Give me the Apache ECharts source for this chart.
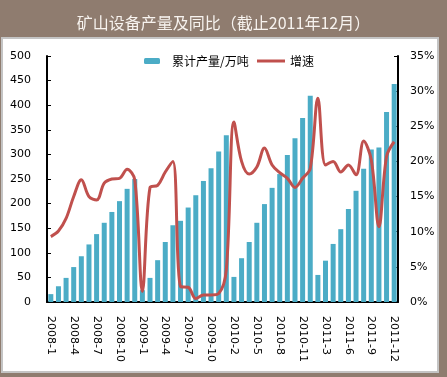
<!DOCTYPE html>
<html>
<head>
<meta charset="utf-8">
<title>矿山设备产量及同比</title>
<script src="https://cdn.jsdelivr.net/npm/echarts@6/dist/echarts.min.js"></script>
<style>
  html, body { margin: 0; padding: 0; background: #8f7c6f; }
  #chart { width: 447px; height: 377px; }
</style>
</head>
<body>
<div id="chart"></div>
<script>
// months shown on the x axis (Jan 2010 and Jan 2011 are merged into Feb)
var months = [
  '2008-1', '2008-2', '2008-3', '2008-4', '2008-5', '2008-6', '2008-7', '2008-8', '2008-9', '2008-10', '2008-11', '2008-12',
  '2009-1', '2009-2', '2009-3', '2009-4', '2009-5', '2009-6', '2009-7', '2009-8', '2009-9', '2009-10', '2009-11', '2009-12',
  '2010-2', '2010-3', '2010-4', '2010-5', '2010-6', '2010-7', '2010-8', '2010-9', '2010-10', '2010-11', '2010-12',
  '2011-2', '2011-3', '2011-4', '2011-5', '2011-6', '2011-7', '2011-8', '2011-9', '2011-10', '2011-11', '2011-12'
]
// 累计产量 (万吨)
var output = [
  16, 32, 49, 71, 93, 117, 138, 161, 183, 205, 230, 250,
  24, 49, 85, 122, 156, 165, 192, 217, 246, 272, 306, 339,
  51, 89, 122, 161, 199, 232, 260, 299, 333, 374, 419,
  55, 84, 118, 148, 189, 226, 271, 310, 314, 386, 443
]
// 增速 (%)
var growth = [
  9.3, 10.1, 11.9, 15.0, 17.4, 15.0, 14.5, 16.9, 17.5, 17.6, 18.9, 17.4,
  1.5, 16.3, 16.6, 18.5, 20.0, 2.2, 2.1, 0.5, 1.0, 1.0, 1.2, 4.6,
  25.6, 20.0, 18.2, 19.2, 21.9, 19.5, 18.4, 17.6, 16.3, 17.6, 19.0,
  29.0, 19.5, 20.0, 18.5, 19.5, 18.1, 22.9, 20.2, 10.7, 20.7, 22.8
]
var leftTicks = { min: 0, max: 500, step: 50 }
var rightTicks = { min: 0, max: 35, step: 5 }

var axisFont = { color: '#000', fontSize: 11, fontFamily: 'DejaVu Sans' }

var chart = echarts.init(document.getElementById('chart'))
chart.setOption({
  backgroundColor: '#8f7c6f',
  animation: false,
  title: {
    text: '矿山设备产量及同比（截止2011年12月）',
    left: 'center',
    top: 10,
    textStyle: {
      color: '#f7f3ef',
      fontSize: 16,
      fontWeight: 'normal',
      fontFamily: 'Noto Sans CJK SC'
    }
  },
  graphic: [{
    type: 'rect',
    z: -1,
    shape: { x: 2, y: 38, width: 436, height: 334 },
    style: { fill: '#fff', stroke: '#c4c4c4', lineWidth: 2 }
  }],
  legend: [{
    data: ['累计产量/万吨'],
    left: 139,
    top: 50,
    itemWidth: 16,
    itemHeight: 6,
    itemGap: 0,
    textStyle: { color: '#000', fontSize: 12, fontFamily: 'Noto Sans CJK SC', padding: [0, 0, 0, 7] }
  }, {
    data: [{ name: '增速', icon: 'rect' }],
    left: 252,
    top: 50,
    itemWidth: 28,
    itemHeight: 3,
    textStyle: { color: '#000', fontSize: 12, fontFamily: 'Noto Sans CJK SC' }
  }],
  grid: {
    left: 47,
    right: 49,
    top: 56,
    bottom: 75
  },
  xAxis: {
    type: 'category',
    data: months,
    axisLine: { lineStyle: { color: '#000', width: 2 } },
    axisTick: { inside: true, length: 3, interval: 0, lineStyle: { color: '#000' } },
    axisLabel: Object.assign({ rotate: -90, interval: 2, margin: 14 }, axisFont)
  },
  yAxis: [{
    type: 'value',
    min: leftTicks.min,
    max: leftTicks.max,
    interval: leftTicks.step,
    splitLine: { show: false },
    axisLine: { show: true, lineStyle: { color: '#000', width: 2 } },
    axisTick: { show: true, inside: true, length: 4, lineStyle: { color: '#000' } },
    axisLabel: Object.assign({ margin: 16 }, axisFont)
  }, {
    type: 'value',
    min: rightTicks.min,
    max: rightTicks.max,
    interval: rightTicks.step,
    splitLine: { show: false },
    axisLine: { show: true, lineStyle: { color: '#000', width: 2 } },
    axisTick: { show: true, inside: true, length: 4, lineStyle: { color: '#000' } },
    axisLabel: Object.assign({ margin: 12, formatter: '{value}%' }, axisFont)
  }],
  series: [{
    name: '累计产量/万吨',
    type: 'bar',
    barWidth: 5,
    itemStyle: { color: '#4bacc6' },
    data: output
  }, {
    name: '增速',
    type: 'line',
    yAxisIndex: 1,
    smooth: 0.35,
    symbol: 'none',
    lineStyle: { color: '#c0504d', width: 3 },
    itemStyle: { color: '#c0504d' },
    data: growth
  }]
})
</script>
</body>
</html>
